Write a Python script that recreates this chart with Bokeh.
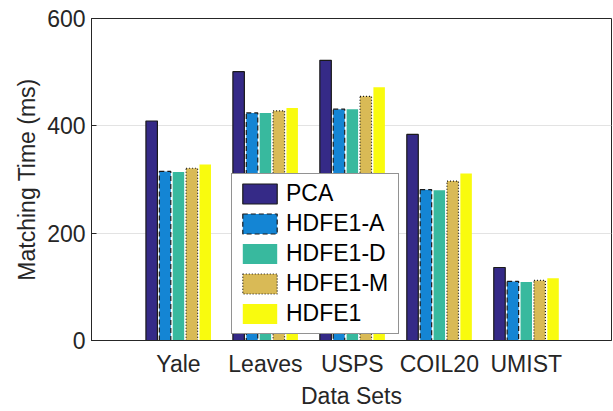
from bokeh.plotting import figure
from bokeh.models import ColumnDataSource, FixedTicker, Legend, LegendItem, Range1d
from bokeh.embed import file_html
from bokeh.resources import INLINE

categories = ["Yale", "Leaves", "USPS", "COIL20", "UMIST"]
cat_pos = [1, 2, 3, 4, 5]
series_names = ["PCA", "HDFE1-A", "HDFE1-D", "HDFE1-M", "HDFE1"]
pca = [409, 501, 522, 384, 136]
hdfe1_a = [315, 424, 431, 281, 110]
hdfe1_d = [314, 424, 431, 280, 109]
hdfe1_m = [321, 428, 455, 297, 112]
hdfe1 = [328, 433, 472, 311, 116]
y_ticks = [0, 200, 400, 600]

series_values = [pca, hdfe1_a, hdfe1_d, hdfe1_m, hdfe1]
colors = ["#352a87", "#1485d4", "#38b99e", "#d9ba56", "#f9fb0e"]
line_colors = ["#1a1a1a", "#1a1a1a", None, "#1a1a1a", None]
line_dashes = ["solid", "5 3", "solid", "1 2", "solid"]

FONT = "Liberation Sans"
TXT = "#262626"

p = figure(width=612, height=411, output_backend="svg", toolbar_location=None,
           x_range=Range1d(0, 5.98), y_range=Range1d(0, 600),
           min_border_left=91, min_border_top=18, min_border_bottom=69, min_border_right=1)

step = 0.154
bw = 0.132
renderers = []
for i, (name, vals) in enumerate(zip(series_names, series_values)):
    xs = [c + (i - 2) * step for c in cat_pos]
    src = ColumnDataSource(dict(x=xs, top=vals))
    kw = dict(x="x", top="top", bottom=0, width=bw, source=src, fill_color=colors[i])
    if line_colors[i] is None:
        kw["line_color"] = None
    else:
        kw.update(line_color=line_colors[i], line_width=1.2, line_dash=line_dashes[i])
    r = p.vbar(**kw)
    renderers.append(r)

legend = Legend(items=[LegendItem(label=n, renderers=[r]) for n, r in zip(series_names, renderers)],
                location=(140, 6), margin=0, padding=6, spacing=3,
                glyph_width=43, glyph_height=25, label_height=25, label_standoff=5,
                label_width=106,
                label_text_font=FONT, label_text_font_size="23px", label_text_color="#000000",
                border_line_color="#262626", border_line_width=1, background_fill_alpha=1)
p.add_layout(legend, "center")

p.xaxis.ticker = FixedTicker(ticks=cat_pos)
p.xaxis.major_label_overrides = {c: n for c, n in zip(cat_pos, categories)}
p.xaxis.minor_tick_line_color = None
p.xaxis.axis_label = "Data Sets"
p.yaxis.ticker = FixedTicker(ticks=y_ticks)
p.yaxis.axis_label = "Matching Time (ms)"
p.yaxis.major_tick_in = 5
p.yaxis.major_tick_out = 0
p.yaxis.minor_tick_line_color = None

for ax in (p.xaxis, p.yaxis):
    ax.axis_line_color = TXT
    ax.major_label_text_font = FONT
    ax.major_label_text_font_size = "23px"
    ax.major_label_text_color = TXT
    ax.axis_label_text_font = FONT
    ax.axis_label_text_font_size = "23px"
    ax.axis_label_text_font_style = "normal"
    ax.axis_label_text_color = TXT
p.yaxis.major_tick_line_color = TXT
p.xaxis.major_tick_line_color = None

p.xaxis.major_label_standoff = 4
p.xaxis.axis_label_standoff = 3
p.yaxis.major_label_standoff = 6
p.yaxis.axis_label_standoff = 4

p.xgrid.grid_line_color = None
p.ygrid.grid_line_color = "#e3e3e3"
p.ygrid.grid_line_width = 1
p.outline_line_color = TXT
p.outline_line_alpha = 1
p.background_fill_color = "white"

open("out.html", "w").write(file_html(p, INLINE))
